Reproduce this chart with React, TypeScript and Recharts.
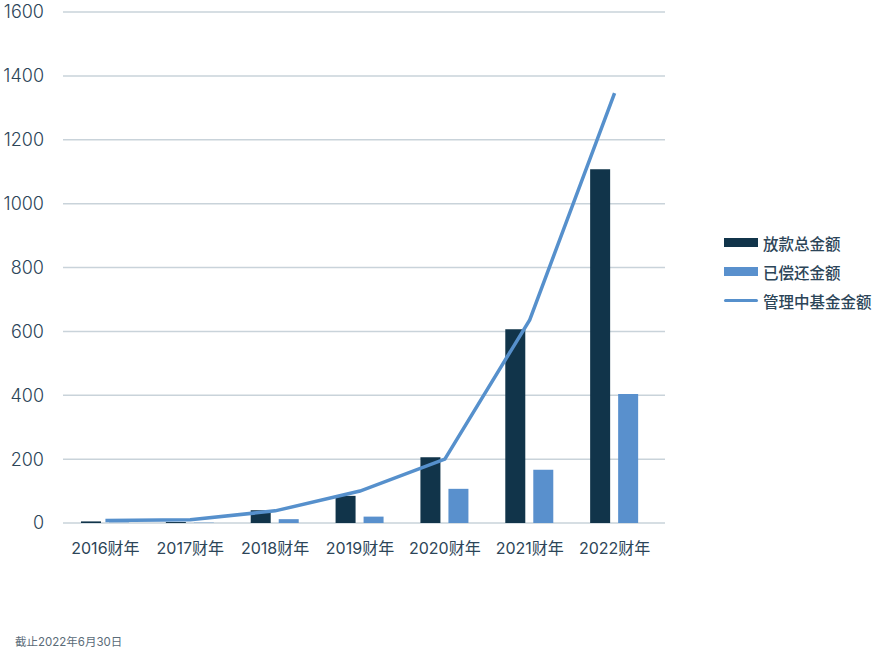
import React from 'react';
import { ComposedChart, Bar, Line, XAxis, YAxis, CartesianGrid, Legend } from 'recharts';

const categories = ['2016财年', '2017财年', '2018财年', '2019财年', '2020财年', '2021财年', '2022财年'];
const loansTotal = [5, 3, 40, 85, 206, 607, 1108];
const repaid = [1, 1, 12, 20, 107, 167, 404];
const fundsManaged = [8, 10, 38, 100, 200, 636, 1346];
const yTicks = [0, 200, 400, 600, 800, 1000, 1200, 1400, 1600];
const seriesNames = ['放款总金额', '已偿还金额', '管理中基金金额'];
const footnote = '截止2022年6月30日';

const data = categories.map((c, i) => ({
  name: c,
  loans: loansTotal[i],
  repaid: repaid[i],
  funds: fundsManaged[i],
}));

const DARK = '#11344a';
const LIGHT = '#5990cd';
const LINE = '#5690cc';
const TEXT = '#2c4558';
const FONT = 'Inter, "Noto Sans CJK SC", sans-serif';

const renderLegend = () => (
  <div style={{ fontFamily: FONT, color: TEXT, fontSize: 15.5, fontWeight: 500 }}>
    {seriesNames.map((n, i) => (
      <div key={n} style={{ display: 'flex', alignItems: 'center', height: 29 }}>
        {i < 2 ? (
          <div style={{ width: 34, height: 9, background: i === 0 ? DARK : LIGHT, marginRight: 5 }} />
        ) : (
          <div style={{ width: 34, height: 3, borderRadius: 2, background: LINE, marginRight: 5 }} />
        )}
        <span>{n}</span>
      </div>
    ))}
  </div>
);

export default function App() {
  return (
    <div style={{ position: 'absolute', left: 0, top: 0, width: 875, height: 658, background: '#fff' }}>
      <ComposedChart
        width={875}
        height={658}
        data={data}
        margin={{ top: 12, right: 60, left: 0, bottom: 95 }}
        barSize={20}
        barGap={8}
      >
        <CartesianGrid vertical={false} stroke="#c9d3da" strokeWidth={1.5} />
        <XAxis
          dataKey="name"
          height={40}
          tickLine={false}
          axisLine={false}
          tickSize={0}
          tickMargin={20}
          padding={{ left: 0, right: 8 }}
          interval={0}
          tick={{ fill: TEXT, fontSize: 16, fontFamily: FONT }}
        />
        <YAxis
          width={63}
          domain={[0, 1600]}
          ticks={yTicks}
          tickLine={false}
          axisLine={false}
          tickSize={0}
          tickMargin={19}
          tick={{ fill: TEXT, fontSize: 18, fontFamily: FONT, fontWeight: 300 }}
        />
        <Legend
          layout="vertical"
          align="right"
          verticalAlign="top"
          content={renderLegend}
          wrapperStyle={{ left: 724, top: 228, width: 150 }}
        />
        <Bar dataKey="loans" name={seriesNames[0]} fill={DARK} isAnimationActive={false} />
        <Bar dataKey="repaid" name={seriesNames[1]} fill={LIGHT} isAnimationActive={false} />
        <Line
          dataKey="funds"
          name={seriesNames[2]}
          type="linear"
          stroke={LINE}
          strokeWidth={3.5}
          dot={false}
          activeDot={false}
          isAnimationActive={false}
        />
      </ComposedChart>
      <div
        style={{
          position: 'absolute',
          left: 15,
          top: 633,
          fontSize: 11.5,
          color: '#5a6b78',
          fontFamily: FONT,
        }}
      >
        {footnote}
      </div>
    </div>
  );
}
